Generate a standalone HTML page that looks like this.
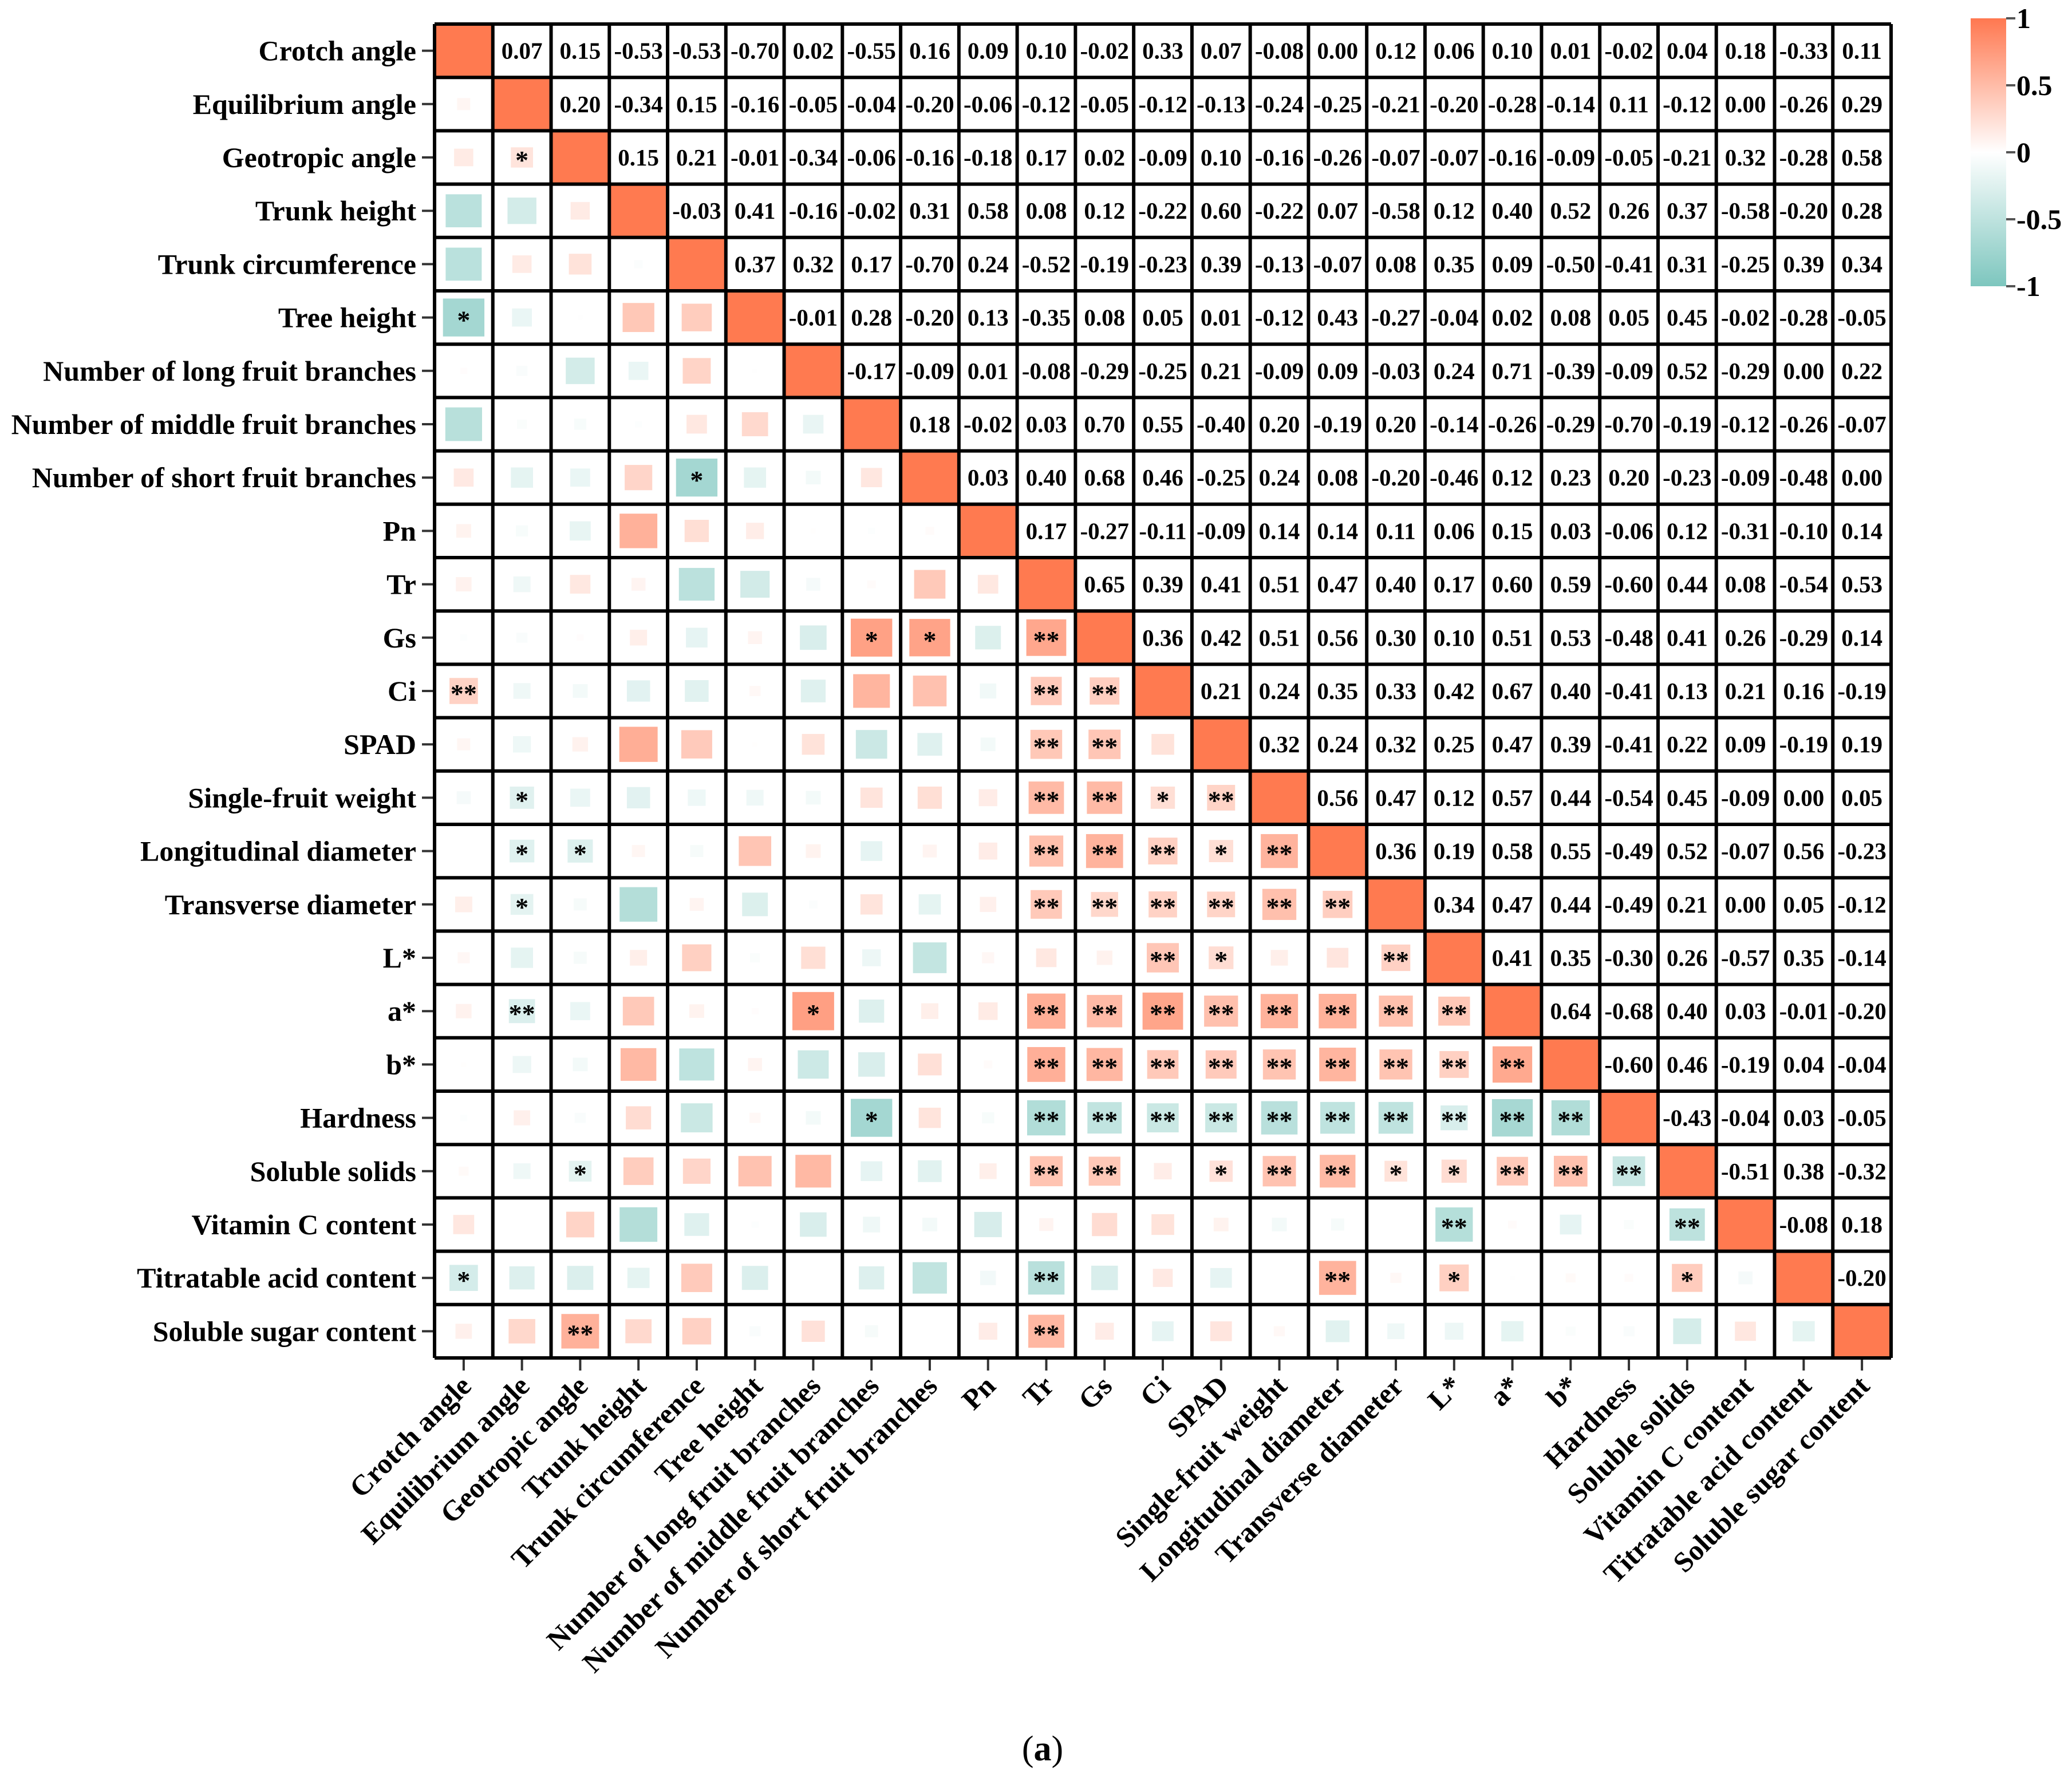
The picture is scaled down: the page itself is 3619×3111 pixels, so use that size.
<!DOCTYPE html>
<html><head><meta charset="utf-8">
<style>
html,body{margin:0;padding:0;background:#fff;}
svg{display:block;font-family:"Liberation Serif",serif;font-weight:bold;}
</style></head>
<body>
<svg id="chart" width="3619" height="3111" viewBox="0 0 3619 3111" xmlns="http://www.w3.org/2000/svg">
<defs>
<linearGradient id="cbar" x1="0" y1="0" x2="0" y2="1">
<stop offset="0" stop-color="#FF7850"/>
<stop offset="0.5" stop-color="#FFFFFF"/>
<stop offset="1" stop-color="#7DC6BE"/>
</linearGradient>
</defs>
<g id="cells"></g>
<g id="labels"></g>
<g>
<rect x="3442" y="32" width="62" height="468" fill="url(#cbar)"/>
</g>
<g id="cbticks"></g>
<text x="1821" y="3075" font-size="62" font-weight="normal" text-anchor="middle">(<tspan font-weight="bold">a</tspan>)</text>
</svg>
<script>
const variables = ["Crotch angle","Equilibrium angle","Geotropic angle","Trunk height","Trunk circumference","Tree height","Number of long fruit branches","Number of middle fruit branches","Number of short fruit branches","Pn","Tr","Gs","Ci","SPAD","Single-fruit weight","Longitudinal diameter","Transverse diameter","L*","a*","b*","Hardness","Soluble solids","Vitamin C content","Titratable acid content","Soluble sugar content"];
const upperRows = [
[0.07,0.15,-0.53,-0.53,-0.70,0.02,-0.55,0.16,0.09,0.10,-0.02,0.33,0.07,-0.08,0.00,0.12,0.06,0.10,0.01,-0.02,0.04,0.18,-0.33,0.11],
[0.20,-0.34,0.15,-0.16,-0.05,-0.04,-0.20,-0.06,-0.12,-0.05,-0.12,-0.13,-0.24,-0.25,-0.21,-0.20,-0.28,-0.14,0.11,-0.12,0.00,-0.26,0.29],
[0.15,0.21,-0.01,-0.34,-0.06,-0.16,-0.18,0.17,0.02,-0.09,0.10,-0.16,-0.26,-0.07,-0.07,-0.16,-0.09,-0.05,-0.21,0.32,-0.28,0.58],
[-0.03,0.41,-0.16,-0.02,0.31,0.58,0.08,0.12,-0.22,0.60,-0.22,0.07,-0.58,0.12,0.40,0.52,0.26,0.37,-0.58,-0.20,0.28],
[0.37,0.32,0.17,-0.70,0.24,-0.52,-0.19,-0.23,0.39,-0.13,-0.07,0.08,0.35,0.09,-0.50,-0.41,0.31,-0.25,0.39,0.34],
[-0.01,0.28,-0.20,0.13,-0.35,0.08,0.05,0.01,-0.12,0.43,-0.27,-0.04,0.02,0.08,0.05,0.45,-0.02,-0.28,-0.05],
[-0.17,-0.09,0.01,-0.08,-0.29,-0.25,0.21,-0.09,0.09,-0.03,0.24,0.71,-0.39,-0.09,0.52,-0.29,0.00,0.22],
[0.18,-0.02,0.03,0.70,0.55,-0.40,0.20,-0.19,0.20,-0.14,-0.26,-0.29,-0.70,-0.19,-0.12,-0.26,-0.07],
[0.03,0.40,0.68,0.46,-0.25,0.24,0.08,-0.20,-0.46,0.12,0.23,0.20,-0.23,-0.09,-0.48,0.00],
[0.17,-0.27,-0.11,-0.09,0.14,0.14,0.11,0.06,0.15,0.03,-0.06,0.12,-0.31,-0.10,0.14],
[0.65,0.39,0.41,0.51,0.47,0.40,0.17,0.60,0.59,-0.60,0.44,0.08,-0.54,0.53],
[0.36,0.42,0.51,0.56,0.30,0.10,0.51,0.53,-0.48,0.41,0.26,-0.29,0.14],
[0.21,0.24,0.35,0.33,0.42,0.67,0.40,-0.41,0.13,0.21,0.16,-0.19],
[0.32,0.24,0.32,0.25,0.47,0.39,-0.41,0.22,0.09,-0.19,0.19],
[0.56,0.47,0.12,0.57,0.44,-0.54,0.45,-0.09,0.00,0.05],
[0.36,0.19,0.58,0.55,-0.49,0.52,-0.07,0.56,-0.23],
[0.34,0.47,0.44,-0.49,0.21,0.00,0.05,-0.12],
[0.41,0.35,-0.30,0.26,-0.57,0.35,-0.14],
[0.64,-0.68,0.40,0.03,-0.01,-0.20],
[-0.60,0.46,-0.19,0.04,-0.04],
[-0.43,-0.04,0.03,-0.05],
[-0.51,0.38,-0.32],
[-0.08,0.18],
[-0.20]
];
const stars = [
[2,1,"*"],[5,0,"*"],[8,4,"*"],[11,7,"*"],[11,8,"*"],[11,10,"**"],
[12,0,"**"],[12,10,"**"],[12,11,"**"],[13,10,"**"],[13,11,"**"],
[14,1,"*"],[14,10,"**"],[14,11,"**"],[14,12,"*"],[14,13,"**"],
[15,1,"*"],[15,2,"*"],[15,10,"**"],[15,11,"**"],[15,12,"**"],[15,13,"*"],[15,14,"**"],
[16,1,"*"],[16,10,"**"],[16,11,"**"],[16,12,"**"],[16,13,"**"],[16,14,"**"],[16,15,"**"],
[17,12,"**"],[17,13,"*"],[17,16,"**"],
[18,1,"**"],[18,6,"*"],[18,10,"**"],[18,11,"**"],[18,12,"**"],[18,13,"**"],[18,14,"**"],[18,15,"**"],[18,16,"**"],[18,17,"**"],
[19,10,"**"],[19,11,"**"],[19,12,"**"],[19,13,"**"],[19,14,"**"],[19,15,"**"],[19,16,"**"],[19,17,"**"],[19,18,"**"],
[20,7,"*"],[20,10,"**"],[20,11,"**"],[20,12,"**"],[20,13,"**"],[20,14,"**"],[20,15,"**"],[20,16,"**"],[20,17,"**"],[20,18,"**"],[20,19,"**"],
[21,2,"*"],[21,10,"**"],[21,11,"**"],[21,13,"*"],[21,14,"**"],[21,15,"**"],[21,16,"*"],[21,17,"*"],[21,18,"**"],[21,19,"**"],[21,20,"**"],
[22,17,"**"],[22,21,"**"],
[23,0,"*"],[23,10,"**"],[23,15,"**"],[23,17,"*"],[23,21,"*"],
[24,2,"**"],[24,10,"**"]
];
const cbTicks = [1,0.5,0,-0.5,-1];
const cbLabels = ["1","0.5","0","-0.5","-1"];

const NS="http://www.w3.org/2000/svg";
const X0=759,Y0=42,W=2544,H=2330,N=variables.length;
const cw=W/N,ch=H/N;
const xs=j=>X0+j*cw, ys=i=>Y0+i*ch;
function corr(i,j){ if(i===j) return 1; return i<j? upperRows[i][j-i-1] : upperRows[j][i-j-1]; }
function mix(a,b,t){return Math.round(a+(b-a)*t);}
function color(r){ const t=Math.min(1,Math.abs(r)); const c=r>=0?[255,120,80]:[125,198,190];
 return `rgb(${mix(255,c[0],t)},${mix(255,c[1],t)},${mix(255,c[2],t)})`; }
function mk(tag,attrs,parent){const e=document.createElementNS(NS,tag);for(const k in attrs)e.setAttribute(k,attrs[k]);parent.appendChild(e);return e;}
const cells=document.getElementById('cells'), labels=document.getElementById('labels');
const starMap={}; stars.forEach(s=>starMap[s[0]+'_'+s[1]]=s[2]);
for(let i=0;i<N;i++){for(let j=0;j<N;j++){
 const r=corr(i,j); const x=xs(j), y=ys(i);
 const bg=mk('rect',{x:x,y:y,width:cw,height:ch,fill:'#fff'},cells);
 
 
 if(i===j){
  const d=mk('rect',{x:x,y:y,width:cw,height:ch,fill:'#FF7A50'},cells);
  
  
 } else if(i<j){
  const t=mk('text',{x:x+cw/2,y:y+ch/2+14,'font-size':41,'text-anchor':'middle',fill:'#000'},cells);
  t.textContent=r.toFixed(2);
  
  
 } else {
  const s=cw*0.85*Math.sqrt(Math.abs(r));
  const sq=mk('rect',{x:x+cw/2-s/2,y:y+ch/2-s*ch/cw/2,width:s,height:s*ch/cw,fill:color(r)},cells);
  
  
  const st=starMap[i+'_'+j];
  if(st){const t=mk('text',{x:x+cw/2,y:y+ch/2+20,'font-size':46,'text-anchor':'middle',fill:'#000'},cells);
   t.textContent=st;
   
   }
 }
}}
for(let k=0;k<=N;k++){
 mk('line',{x1:xs(k),y1:Y0,x2:xs(k),y2:Y0+H,stroke:'#000','stroke-width':6},cells);
 mk('line',{x1:X0,y1:ys(k),x2:X0+W,y2:ys(k),stroke:'#000','stroke-width':6},cells);
}
variables.forEach((v,i)=>{
 const y=ys(i)+ch/2;
 mk('line',{x1:X0-22,y1:y,x2:X0-3,y2:y,stroke:'#333','stroke-width':4},labels);
 const t=mk('text',{x:X0-32,y:y+17,'font-size':50,'text-anchor':'end'},labels);
 t.textContent=v;
 
 
 const x=xs(i)+cw/2;
 mk('line',{x1:x,y1:Y0+H+3,x2:x,y2:Y0+H+22,stroke:'#333','stroke-width':4},labels);
 const tx=mk('text',{x:x+16,y:Y0+H+52,'font-size':50,'text-anchor':'end',transform:`rotate(-45 ${x+16} ${Y0+H+52})`},labels);
 tx.textContent=v;
 
 
});
const cbt=document.getElementById('cbticks');
cbTicks.forEach((v,k)=>{
 const y=32+(1-v)/2*468;
 mk('line',{x1:3504,y1:y,x2:3520,y2:y,stroke:'#555','stroke-width':4},cbt);
 const t=mk('text',{x:3522,y:y+17,'font-size':50},cbt);
 t.textContent=cbLabels[k];
 
 
});
</script>
</body></html>
